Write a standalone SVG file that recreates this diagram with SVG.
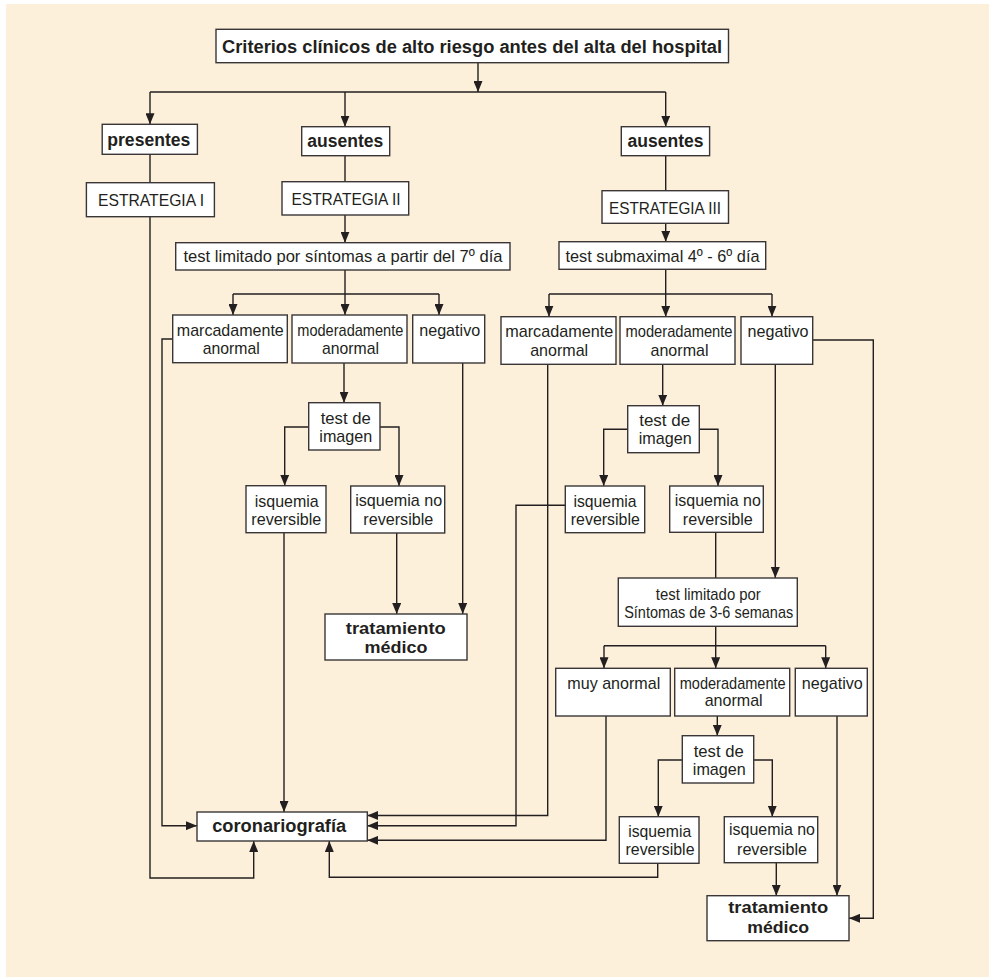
<svg xmlns="http://www.w3.org/2000/svg" width="989" height="977" viewBox="0 0 989 977">
<defs>
<style>
.bg{fill:#FCF0DB}
.box{fill:#FFFFFF;stroke:#3a3637;stroke-width:1.4}
.c{fill:none;stroke:#231F20;stroke-width:1.4}
.t{font-family:"Liberation Sans Narrow","Liberation Sans",Arial,sans-serif;font-size:17px;fill:#231F20;text-anchor:middle}
.b{font-family:"Liberation Sans Narrow","Liberation Sans",Arial,sans-serif;font-size:17.5px;font-weight:bold;fill:#231F20;text-anchor:middle}
.b2{font-family:"Liberation Sans Narrow","Liberation Sans",Arial,sans-serif;font-size:17px;font-weight:bold;fill:#231F20;text-anchor:middle}
</style>
<marker id="arr" viewBox="0 0 11 9" refX="11" refY="4.5" markerWidth="11" markerHeight="9" markerUnits="userSpaceOnUse" orient="auto">
<path d="M0,0 L11,4.5 L0,9 z" fill="#231F20"/>
</marker>
</defs>
<rect x="0" y="0" width="989" height="977" fill="#FFFFFF"/>
<rect class="bg" x="6" y="4" width="983" height="973"/>

<g id="connectors">
<path class="c" d="M478,62.7 V92" marker-end="url(#arr)"/>
<path class="c" d="M150,92 H665.7"/>
<path class="c" d="M150,92 V124.3" marker-end="url(#arr)"/>
<path class="c" d="M345,92 V126.7" marker-end="url(#arr)"/>
<path class="c" d="M665.7,92 V126.7" marker-end="url(#arr)"/>
<path class="c" d="M150,154.3 V182.7"/>
<path class="c" d="M345,155.7 V181.7"/>
<path class="c" d="M665.7,155.7 V190.7"/>
<path class="c" d="M345,215 V242.7" marker-end="url(#arr)"/>
<path class="c" d="M665.7,223.3 V241.7" marker-end="url(#arr)"/>
<path class="c" d="M345,270 V294"/>
<path class="c" d="M233,294 H439"/>
<path class="c" d="M233,294 V315" marker-end="url(#arr)"/>
<path class="c" d="M345,294 V315" marker-end="url(#arr)"/>
<path class="c" d="M439,294 V315" marker-end="url(#arr)"/>
<path class="c" d="M665.7,269.3 V294"/>
<path class="c" d="M549,294 H772"/>
<path class="c" d="M549,294 V316.7" marker-end="url(#arr)"/>
<path class="c" d="M665.7,294 V316.7" marker-end="url(#arr)"/>
<path class="c" d="M772,294 V316.7" marker-end="url(#arr)"/>
<path class="c" d="M172.7,339 H162 V825.7 H197" marker-end="url(#arr)"/>
<path class="c" d="M344,363 V402.7" marker-end="url(#arr)"/>
<path class="c" d="M308.7,427 H284.7 V485.7" marker-end="url(#arr)"/>
<path class="c" d="M380,427 H399 V486" marker-end="url(#arr)"/>
<path class="c" d="M284,532.7 V812" marker-end="url(#arr)"/>
<path class="c" d="M396.7,533 V614" marker-end="url(#arr)"/>
<path class="c" d="M462.7,363 V614" marker-end="url(#arr)"/>
<path class="c" d="M150,216.7 V878 H253.7 V841" marker-end="url(#arr)"/>
<path class="c" d="M547.7,364.3 V815.5 H367.3" marker-end="url(#arr)"/>
<path class="c" d="M662.7,364.3 V405.7" marker-end="url(#arr)"/>
<path class="c" d="M627.7,429.3 H603.7 V486" marker-end="url(#arr)"/>
<path class="c" d="M699.3,429.3 H718 V486" marker-end="url(#arr)"/>
<path class="c" d="M565.3,505.3 H516 V825.7 H367.3" marker-end="url(#arr)"/>
<path class="c" d="M715.7,532.3 V578"/>
<path class="c" d="M775.3,364.3 V578" marker-end="url(#arr)"/>
<path class="c" d="M812.7,340 H873.3 V918.3 H849" marker-end="url(#arr)"/>
<path class="c" d="M715.7,626.3 V645.7"/>
<path class="c" d="M604,645.7 H825.7"/>
<path class="c" d="M604,645.7 V668.3" marker-end="url(#arr)"/>
<path class="c" d="M715.7,645.7 V668.3" marker-end="url(#arr)"/>
<path class="c" d="M825.7,645.7 V668.3" marker-end="url(#arr)"/>
<path class="c" d="M606,716 V840.3 H367.3" marker-end="url(#arr)"/>
<path class="c" d="M717.3,716 V735.7" marker-end="url(#arr)"/>
<path class="c" d="M682.3,760 H658.3 V816.7" marker-end="url(#arr)"/>
<path class="c" d="M753.7,760 H772.3 V816.7" marker-end="url(#arr)"/>
<path class="c" d="M657.7,863.3 V877.3 H329.3 V841" marker-end="url(#arr)"/>
<path class="c" d="M776.3,862.7 V895.7" marker-end="url(#arr)"/>
<path class="c" d="M837,716 V895.7" marker-end="url(#arr)"/>
</g>

<g id="n-criterios"><rect class="box" x="216" y="29.3" width="512.5" height="33.4"/><text class="b" x="472" y="52.5" textLength="500" lengthAdjust="spacingAndGlyphs">Criterios clínicos de alto riesgo antes del alta del hospital</text></g>
<g id="n-presentes"><rect class="box" x="102.2" y="124.3" width="95.2" height="30"/><text class="b" x="148.8" y="145.5" textLength="83" lengthAdjust="spacingAndGlyphs">presentes</text></g>
<g id="n-ausentes1"><rect class="box" x="301.7" y="126.7" width="88" height="29"/><text class="b" x="345.3" y="146.5" textLength="76" lengthAdjust="spacingAndGlyphs">ausentes</text></g>
<g id="n-ausentes2"><rect class="box" x="621.3" y="126.7" width="88.3" height="29"/><text class="b" x="665.5" y="146.5" textLength="76" lengthAdjust="spacingAndGlyphs">ausentes</text></g>
<g id="n-estrategia1"><rect class="box" x="86.4" y="182.7" width="128" height="34"/><text class="t" x="151" y="206" textLength="106" lengthAdjust="spacingAndGlyphs">ESTRATEGIA I</text></g>
<g id="n-estrategia2"><rect class="box" x="282" y="181.7" width="126.7" height="33.3"/><text class="t" x="346" y="205" textLength="109" lengthAdjust="spacingAndGlyphs">ESTRATEGIA II</text></g>
<g id="n-estrategia3"><rect class="box" x="602" y="190.7" width="126.5" height="32.6"/><text class="t" x="665" y="213.5" textLength="112" lengthAdjust="spacingAndGlyphs">ESTRATEGIA III</text></g>
<g id="n-test7"><rect class="box" x="175.7" y="242.7" width="334.3" height="27.3"/><text class="t" x="343" y="262" textLength="319" lengthAdjust="spacingAndGlyphs">test limitado por síntomas a partir del 7º día</text></g>
<g id="n-testsub"><rect class="box" x="559" y="241.7" width="206.7" height="27.6"/><text class="t" x="662.5" y="261.5" textLength="194" lengthAdjust="spacingAndGlyphs">test submaximal 4º - 6º día</text></g>

<g id="n-marc1"><rect class="box" x="172.7" y="315" width="114.6" height="47.7"/><text class="t" x="230.3" y="336" textLength="107" lengthAdjust="spacingAndGlyphs">marcadamente</text><text class="t" x="231.3" y="354" textLength="57" lengthAdjust="spacingAndGlyphs">anormal</text></g>
<g id="n-mod1"><rect class="box" x="292" y="315" width="115" height="48"/><text class="t" x="350.3" y="336" textLength="106" lengthAdjust="spacingAndGlyphs">moderadamente</text><text class="t" x="350.5" y="354" textLength="57" lengthAdjust="spacingAndGlyphs">anormal</text></g>
<g id="n-neg1"><rect class="box" x="412.7" y="315" width="72" height="48"/><text class="t" x="449.7" y="336" textLength="61" lengthAdjust="spacingAndGlyphs">negativo</text></g>
<g id="n-marc2"><rect class="box" x="501" y="316.7" width="115" height="47.6"/><text class="t" x="559.2" y="337" textLength="108" lengthAdjust="spacingAndGlyphs">marcadamente</text><text class="t" x="559.2" y="355.5" textLength="58" lengthAdjust="spacingAndGlyphs">anormal</text></g>
<g id="n-mod2"><rect class="box" x="620" y="316.7" width="115" height="47.6"/><text class="t" x="679" y="337" textLength="107" lengthAdjust="spacingAndGlyphs">moderadamente</text><text class="t" x="679.5" y="355.5" textLength="58" lengthAdjust="spacingAndGlyphs">anormal</text></g>
<g id="n-neg2"><rect class="box" x="741" y="316.7" width="71.7" height="47.6"/><text class="t" x="778" y="337" textLength="61" lengthAdjust="spacingAndGlyphs">negativo</text></g>

<g id="n-img1"><rect class="box" x="308.7" y="402.7" width="71.3" height="47.3"/><text class="t" x="345.7" y="423.5" textLength="50" lengthAdjust="spacingAndGlyphs">test de</text><text class="t" x="345.8" y="441.5" textLength="53" lengthAdjust="spacingAndGlyphs">imagen</text></g>
<g id="n-img2"><rect class="box" x="627.7" y="405.7" width="71.6" height="47"/><text class="t" x="664.7" y="425.5" textLength="51" lengthAdjust="spacingAndGlyphs">test de</text><text class="t" x="665.2" y="443.5" textLength="53" lengthAdjust="spacingAndGlyphs">imagen</text></g>

<g id="n-isqrev1"><rect class="box" x="246" y="485.7" width="80" height="47"/><text class="t" x="286.7" y="507" textLength="64" lengthAdjust="spacingAndGlyphs">isquemia</text><text class="t" x="286.3" y="524.5" textLength="70" lengthAdjust="spacingAndGlyphs">reversible</text></g>
<g id="n-isqno1"><rect class="box" x="350.7" y="486" width="94" height="47"/><text class="t" x="398.7" y="506" textLength="87" lengthAdjust="spacingAndGlyphs">isquemia no</text><text class="t" x="398.3" y="524.5" textLength="70" lengthAdjust="spacingAndGlyphs">reversible</text></g>
<g id="n-isqrev2"><rect class="box" x="565.3" y="486" width="79.4" height="46.7"/><text class="t" x="605" y="506.5" textLength="63" lengthAdjust="spacingAndGlyphs">isquemia</text><text class="t" x="605.3" y="524.5" textLength="69" lengthAdjust="spacingAndGlyphs">reversible</text></g>
<g id="n-isqno2"><rect class="box" x="669.7" y="486" width="93.6" height="46.3"/><text class="t" x="717.8" y="505.5" textLength="86" lengthAdjust="spacingAndGlyphs">isquemia no</text><text class="t" x="717.8" y="524.5" textLength="70" lengthAdjust="spacingAndGlyphs">reversible</text></g>

<g id="n-trat1"><rect class="box" x="325" y="614" width="142" height="46"/><text class="b2" x="395.8" y="633.5" textLength="100" lengthAdjust="spacingAndGlyphs">tratamiento</text><text class="b2" x="396" y="653" textLength="63" lengthAdjust="spacingAndGlyphs">médico</text></g>

<g id="n-test36"><rect class="box" x="618.3" y="578" width="179" height="48.3"/><text class="t" x="708.3" y="599.5" textLength="105" lengthAdjust="spacingAndGlyphs">test limitado por</text><text class="t" x="708.7" y="617.8" textLength="169" lengthAdjust="spacingAndGlyphs">Síntomas de 3-6 semanas</text></g>

<g id="n-muy"><rect class="box" x="555.7" y="668.3" width="114.6" height="47.7"/><text class="t" x="613.8" y="688.5" textLength="93" lengthAdjust="spacingAndGlyphs">muy anormal</text></g>
<g id="n-mod3"><rect class="box" x="674.7" y="668.3" width="115" height="47.7"/><text class="t" x="732.7" y="688.5" textLength="106" lengthAdjust="spacingAndGlyphs">moderadamente</text><text class="t" x="733.7" y="706.3" textLength="58" lengthAdjust="spacingAndGlyphs">anormal</text></g>
<g id="n-neg3"><rect class="box" x="795.3" y="668.3" width="72" height="47.7"/><text class="t" x="832.3" y="688.5" textLength="61" lengthAdjust="spacingAndGlyphs">negativo</text></g>

<g id="n-img3"><rect class="box" x="682.3" y="735.7" width="71.4" height="47.3"/><text class="t" x="718.7" y="756.8" textLength="50" lengthAdjust="spacingAndGlyphs">test de</text><text class="t" x="719.3" y="774.5" textLength="53" lengthAdjust="spacingAndGlyphs">imagen</text></g>

<g id="n-isqrev3"><rect class="box" x="619.3" y="816.7" width="79.7" height="46.6"/><text class="t" x="659.7" y="836.8" textLength="63" lengthAdjust="spacingAndGlyphs">isquemia</text><text class="t" x="660" y="854.5" textLength="69" lengthAdjust="spacingAndGlyphs">reversible</text></g>
<g id="n-isqno3"><rect class="box" x="724.3" y="816.7" width="93.4" height="46"/><text class="t" x="772" y="835" textLength="86" lengthAdjust="spacingAndGlyphs">isquemia no</text><text class="t" x="772" y="854.5" textLength="70" lengthAdjust="spacingAndGlyphs">reversible</text></g>

<g id="n-trat2"><rect class="box" x="707" y="895.7" width="142" height="45"/><text class="b2" x="778.2" y="913" textLength="100" lengthAdjust="spacingAndGlyphs">tratamiento</text><text class="b2" x="778.2" y="932.5" textLength="62" lengthAdjust="spacingAndGlyphs">médico</text></g>

<g id="n-corona"><rect class="box" x="197" y="812" width="170.3" height="29"/><text class="b" x="279.2" y="831.5" textLength="134" lengthAdjust="spacingAndGlyphs">coronariografía</text></g>
</svg>
